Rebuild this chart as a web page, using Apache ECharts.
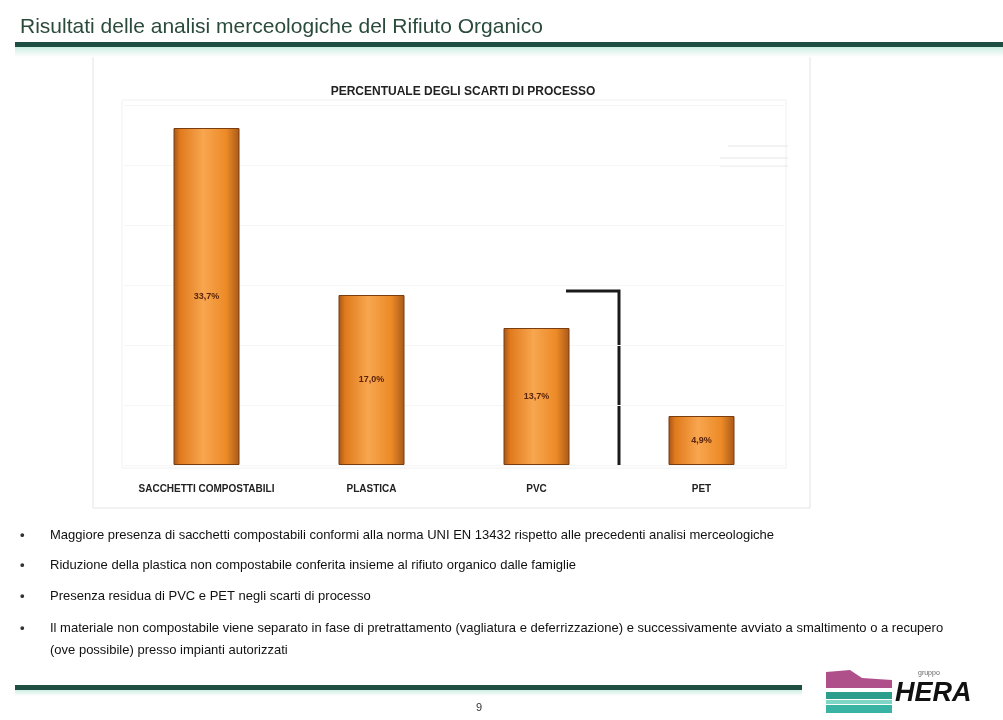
<!DOCTYPE html>
<html>
<head>
<meta charset="utf-8">
<script src="https://cdn.jsdelivr.net/npm/echarts@6/dist/echarts.min.js"></script>
<style>
  html, body { margin:0; padding:0; background:#ffffff; }
  #chart { width:1003px; height:720px; }
</style>
</head>
<body>
<div id="chart"></div>
<script>
// ---- data ----
const categories = ['SACCHETTI COMPOSTABILI', 'PLASTICA', 'PVC', 'PET'];
const values = [33.7, 17.0, 13.7, 4.9];
const valueLabels = ['33,7%', '17,0%', '13,7%', '4,9%'];
const chartTitle = 'PERCENTUALE DEGLI SCARTI DI PROCESSO';
const slideTitle = 'Risultati delle analisi merceologiche del Rifiuto Organico';
const bullets = [
  'Maggiore presenza di sacchetti compostabili conformi alla norma UNI EN 13432 rispetto alle precedenti analisi merceologiche',
  'Riduzione della plastica non compostabile conferita insieme al rifiuto organico dalle famiglie',
  'Presenza residua di PVC e PET negli scarti di processo',
  'Il materiale non compostabile viene separato in fase di pretrattamento (vagliatura e deferrizzazione) e successivamente avviato a smaltimento o a recupero',
  '(ove possibile) presso impianti autorizzati'
];
const pageNumber = '9';

const chart = echarts.init(document.getElementById('chart'));

const barGradient = new echarts.graphic.LinearGradient(0, 0, 1, 0, [
  { offset: 0, color: '#a3541a' },
  { offset: 0.1, color: '#e07a1c' },
  { offset: 0.45, color: '#f8a650' },
  { offset: 0.8, color: '#ec8a26' },
  { offset: 1, color: '#a8581a' }
]);

const bulletY = [537, 567, 598, 630, 652];
const bulletGraphics = [];
bullets.forEach((t, i) => {
  if (i !== 4) {
    bulletGraphics.push({
      type: 'text', left: 20, top: bulletY[i] - 8,
      style: { text: '•', fill: '#333', font: 'bold 13px "Liberation Sans"' }
    });
  }
  bulletGraphics.push({
    type: 'text', left: 50, top: bulletY[i] - 8,
    style: { text: t, fill: '#111', font: '13px "Liberation Sans"' }
  });
});

const option = {
  animation: false,
  backgroundColor: '#ffffff',
  title: {
    text: chartTitle,
    left: 458, top: 81, textAlign: 'center',
    textStyle: { fontSize: 12, fontWeight: 'bold', color: '#222', fontFamily: 'Liberation Sans' }
  },
  grid: { left: 124, top: 105, width: 660, height: 360 },
  xAxis: {
    type: 'category',
    data: categories,
    axisLine: { show: false },
    axisTick: { show: false },
    axisLabel: { interval: 0, color: '#222', fontSize: 10, fontWeight: 'bold', margin: 19, fontFamily: 'Liberation Sans' }
  },
  yAxis: {
    type: 'value', min: 0, max: 36, interval: 6,
    axisLabel: { show: false }, axisLine: { show: false }, axisTick: { show: false },
    splitLine: { lineStyle: { color: '#f6f6f6' } }
  },
  series: [{
    type: 'bar',
    data: values,
    barWidth: 66,
    itemStyle: { color: barGradient, borderColor: '#7a3d10', borderWidth: 1 },
    label: {
      show: true, position: 'inside',
      formatter: p => valueLabels[p.dataIndex],
      color: '#5a2408', fontSize: 9, fontWeight: 'bold'
    }
  }],
  graphic: [
    // header line + mint gradient
    { type: 'rect', shape: { x: 15, y: 47, width: 988, height: 10 }, z: -1,
      style: { fill: new echarts.graphic.LinearGradient(0, 0, 0, 1, [
        { offset: 0, color: '#cdeee3' }, { offset: 1, color: '#ffffff' }]) } },
    { type: 'rect', shape: { x: 15, y: 42, width: 988, height: 5 },
      style: { fill: '#1f4f42' } },
    { type: 'text', left: 20, top: 17,
      style: { text: slideTitle, fill: '#2a4a3c', font: '21px "Liberation Sans"' } },
    // chart frame
    { type: 'rect', shape: { x: 93, y: 56, width: 717, height: 452 }, z: -2,
      style: { fill: '#ffffff', stroke: '#e4e4e4', lineWidth: 1 } },
    { type: 'rect', shape: { x: 122, y: 100, width: 664, height: 368 }, z: -1,
      style: { fill: 'none', stroke: '#f1f1f1', lineWidth: 1 } },
    // faint legend marks
    { type: 'line', shape: { x1: 728, y1: 146, x2: 788, y2: 146 }, style: { stroke: '#e6e6e6', lineWidth: 1 } },
    { type: 'line', shape: { x1: 720, y1: 158, x2: 788, y2: 158 }, style: { stroke: '#e6e6e6', lineWidth: 1 } },
    { type: 'line', shape: { x1: 720, y1: 166, x2: 788, y2: 166 }, style: { stroke: '#e6e6e6', lineWidth: 1 } },
    // dark bracket
    { type: 'polyline', shape: { points: [[566, 291], [619, 291], [619, 466]] },
      style: { stroke: '#1a1a1a', lineWidth: 3, fill: 'none' } },
    // footer
    { type: 'rect', shape: { x: 15, y: 685, width: 787, height: 5 }, style: { fill: '#1f4f42' } },
    { type: 'rect', shape: { x: 15, y: 690, width: 787, height: 6 },
      style: { fill: new echarts.graphic.LinearGradient(0, 0, 0, 1, [
        { offset: 0, color: '#cdeee3' }, { offset: 1, color: '#ffffff' }]) } },
    { type: 'text', left: 476, top: 702,
      style: { text: pageNumber, fill: '#333', font: '11px "Liberation Sans"' } },
    // logo stripes
    { type: 'polygon', shape: { points: [[826, 672], [850, 670], [862, 678], [892, 680], [892, 688], [826, 688]] },
      style: { fill: '#b0508a' } },
    { type: 'rect', shape: { x: 826, y: 689, width: 66, height: 3 }, style: { fill: '#ffffff' } },
    { type: 'rect', shape: { x: 826, y: 692, width: 66, height: 7 }, style: { fill: '#2e9e8c' } },
    { type: 'rect', shape: { x: 826, y: 700, width: 66, height: 4 }, style: { fill: '#7fd6c6' } },
    { type: 'rect', shape: { x: 826, y: 705, width: 66, height: 8 }, style: { fill: '#39b3a3' } },
    { type: 'text', left: 895, top: 680,
      style: { text: 'HERA', fill: '#111', font: 'italic bold 27px "Liberation Sans"' } },
    { type: 'text', left: 918, top: 670,
      style: { text: 'gruppo', fill: '#666', font: '7px "Liberation Sans"' } },
    ...bulletGraphics
  ]
};
chart.setOption(option);
</script>
</body>
</html>
